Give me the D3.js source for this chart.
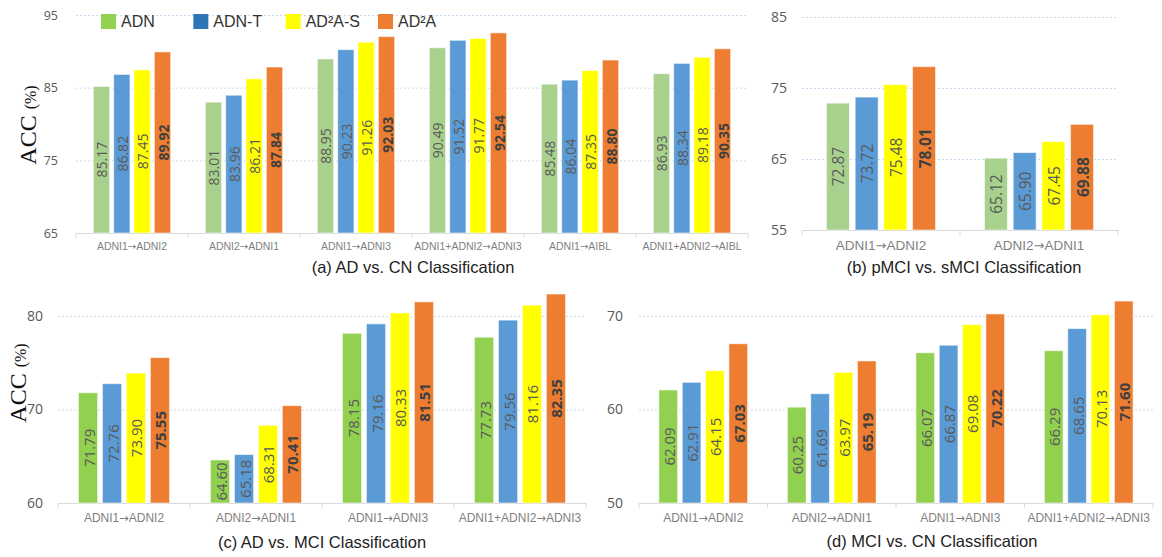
<!DOCTYPE html>
<html>
<head>
<meta charset="utf-8">
<script src="https://cdn.jsdelivr.net/npm/d3@7"></script>
<style>
  body { margin: 0; background: #fff; }
  svg { display: block; }
</style>
</head>
<body>
<svg id="chart" width="1162" height="557"></svg>
<script>

// === DATA ===
const seriesNames = ["ADN", "ADN-T", "AD²A-S", "AD²A"];

// (a) AD vs. CN
const catsA = ["ADNI1→ADNI2", "ADNI2→ADNI1", "ADNI1→ADNI3", "ADNI1+ADNI2→ADNI3", "ADNI1→AIBL", "ADNI1+ADNI2→AIBL"];
const adnA   = [85.17, 83.01, 88.95, 90.49, 85.48, 86.93];
const adntA  = [86.82, 83.96, 90.23, 91.52, 86.04, 88.34];
const ad2asA = [87.45, 86.21, 91.26, 91.77, 87.35, 89.18];
const ad2aA  = [89.92, 87.84, 92.03, 92.54, 88.80, 90.35];
const ticksA = [65, 75, 85, 95];

// (b) pMCI vs. sMCI
const catsB = ["ADNI1→ADNI2", "ADNI2→ADNI1"];
const adnB   = [72.87, 65.12];
const adntB  = [73.72, 65.90];
const ad2asB = [75.48, 67.45];
const ad2aB  = [78.01, 69.88];
const ticksB = [55, 65, 75, 85];

// (c) AD vs. MCI
const catsC = ["ADNI1→ADNI2", "ADNI2→ADNI1", "ADNI1→ADNI3", "ADNI1+ADNI2→ADNI3"];
const adnC   = [71.79, 64.60, 78.15, 77.73];
const adntC  = [72.76, 65.18, 79.16, 79.56];
const ad2asC = [73.90, 68.31, 80.33, 81.16];
const ad2aC  = [75.55, 70.41, 81.51, 82.35];
const ticksC = [60, 70, 80];

// (d) MCI vs. CN
const catsD = ["ADNI1→ADNI2", "ADNI2→ADNI1", "ADNI1→ADNI3", "ADNI1+ADNI2→ADNI3"];
const adnD   = [62.09, 60.25, 66.07, 66.29];
const adntD  = [62.91, 61.69, 66.87, 68.65];
const ad2asD = [64.15, 63.97, 69.08, 70.13];
const ad2aD  = [67.03, 65.19, 70.22, 71.60];
const ticksD = [50, 60, 70];


const svg = d3.select("#chart");

const paleColors   = ["#A9D18E", "#5B9BD5", "#FFFF00", "#ED7D31"];
const brightColors = ["#92D050", "#5B9BD5", "#FFFF00", "#ED7D31"];

// === Rita en panel ===
function renderPanel(opt) {
  const g = svg.append("g");
  const rows = opt.cats.map((c, i) => ({ cat: c, values: opt.series.map(s => s[i]) }));

  const x0 = d3.scaleBand()
    .domain(opt.cats)
    .range([opt.left, opt.right]);

  const x1 = d3.scaleBand()
    .domain(d3.range(seriesNames.length))
    .range([x0.bandwidth() * 0.155, x0.bandwidth() * 0.845])
    .paddingInner(0.2);

  const y = d3.scaleLinear()
    .domain([opt.ticks[0], opt.ticks[opt.ticks.length - 1]])
    .range([opt.bottom, opt.top]);

  const color = d3.scaleOrdinal().domain(d3.range(4)).range(opt.colors);

  // gridlines (streckade)
  const grid = g.append("g")
    .attr("transform", `translate(${opt.left},0)`)
    .call(d3.axisLeft(y).tickValues(opt.ticks.slice(1)).tickSize(-(opt.right - opt.left)).tickFormat(""));
  grid.select(".domain").remove();
  grid.selectAll("line")
    .attr("stroke", "#c9ddf0")
    .attr("stroke-dasharray", "2,2");

  // y tick labels
  const yAxis = g.append("g")
    .attr("transform", `translate(${opt.left},0)`)
    .call(d3.axisLeft(y).tickValues(opt.ticks).tickSize(0).tickPadding(opt.tickPad));
  yAxis.select(".domain").remove();
  yAxis.selectAll("text")
    .attr("fill", "#595959")
    .style("font-family", "'Open Sans', sans-serif")
    .style("font-size", opt.tickFont + "px");

  // x axel
  const xAxis = g.append("g")
    .attr("transform", `translate(0,${opt.bottom})`)
    .call(d3.axisBottom(x0).tickSize(0).tickPadding(opt.catPad));
  xAxis.select(".domain").attr("stroke", "#d9d9d9");
  xAxis.selectAll("text")
    .attr("fill", "#7f7f7f")
    .style("font-family", "'Liberation Sans', Arial, sans-serif")
    .style("font-size", opt.catFont + "px");

  // pilen i en bredare font (Liberation har en liten pil)
  xAxis.selectAll("text").each(function (d) {
    const t = d3.select(this);
    const parts = d.split("→");
    t.text(null);
    t.append("tspan").text(parts[0]);
    t.append("tspan").style("font-family", "'DejaVu Sans', sans-serif").style("font-size", (opt.catFont * 0.95) + "px").text("→");
    t.append("tspan").text(parts[1]);
  });

  const edges = opt.cats.map(c => x0(c)).concat([opt.right]);
  g.selectAll(".sep")
    .data(edges)
    .enter()
    .append("line")
    .attr("x1", d => d).attr("x2", d => d)
    .attr("y1", opt.bottom).attr("y2", opt.bottom + 5)
    .attr("stroke", "#d9d9d9");

  // Staplar
  const groups = g.selectAll(".grp")
    .data(rows)
    .enter()
    .append("g")
    .attr("transform", d => `translate(${x0(d.cat)},0)`);

  const items = groups.selectAll(".bar")
    .data(d => d.values.map((v, i) => ({ i, v })))
    .enter();

  items.append("rect")
    .attr("x", d => x1(d.i))
    .attr("y", d => y(d.v))
    .attr("width", x1.bandwidth())
    .attr("height", d => opt.bottom - y(d.v))
    .attr("fill", d => color(d.i))
    .attr("stroke", "#ffffff")
    .attr("stroke-opacity", 0.55)
    .attr("stroke-width", 1);

  items.append("text")
    .attr("transform", d => `translate(${x1(d.i) + x1.bandwidth() / 2 + 0.5},${(y(d.v) + opt.bottom) / 2}) rotate(-90)`)
    .attr("text-anchor", "middle")
    .attr("dominant-baseline", "central")
    .attr("fill", d => d.i === 3 ? "#404040" : "#595959")
    .style("font-family", "'Open Sans', sans-serif")
    .style("font-weight", d => d.i === 3 ? "bold" : "normal")
    .style("font-size", opt.valFont + "px")
    .text(d => d.v.toFixed(2));

  // Titel
  g.append("text")
    .attr("x", opt.titleX)
    .attr("y", opt.titleY)
    .attr("text-anchor", "middle")
    .attr("fill", "#222")
    .style("font-family", "'Liberation Sans', Arial, sans-serif")
    .style("font-size", "16.5px")
    .text(opt.title);

  // ACC (%) etikett
  if (opt.accY) {
    const lab = g.append("text")
      .attr("transform", `translate(${opt.accX},${opt.accY}) rotate(-90)`)
      .attr("text-anchor", "middle")
      .attr("fill", "#111")
      .style("font-family", "'Liberation Serif', 'Times New Roman', serif");
    lab.append("tspan").style("font-size", "24px").text("ACC ");
    lab.append("tspan").style("font-size", "16px").text("(%)");
  }
}

renderPanel({
  cats: catsA, series: [adnA, adntA, ad2asA, ad2aA], ticks: ticksA, colors: paleColors,
  left: 76, right: 748, top: 15, bottom: 233,
  tickFont: 12.5, tickPad: 18, catFont: 10.5, catPad: 10, valFont: 14,
  title: "(a) AD vs. CN Classification", titleX: 413, titleY: 273,
  accX: 36, accY: 125
});

renderPanel({
  cats: catsB, series: [adnB, adntB, ad2asB, ad2aB], ticks: ticksB, colors: paleColors,
  left: 802, right: 1118, top: 17, bottom: 230,
  tickFont: 14, tickPad: 15, catFont: 13.5, catPad: 10, valFont: 15.5,
  title: "(b) pMCI vs. sMCI Classification", titleX: 964, titleY: 273
});

renderPanel({
  cats: catsC, series: [adnC, adntC, ad2asC, ad2aC], ticks: ticksC, colors: brightColors,
  left: 58, right: 586, top: 316, bottom: 503,
  tickFont: 14, tickPad: 15, catFont: 12, catPad: 10, valFont: 15,
  title: "(c) AD vs. MCI Classification", titleX: 322, titleY: 548,
  accX: 26, accY: 383
});

renderPanel({
  cats: catsD, series: [adnD, adntD, ad2asD, ad2aD], ticks: ticksD, colors: brightColors,
  left: 639, right: 1153, top: 316, bottom: 503,
  tickFont: 14, tickPad: 16, catFont: 12, catPad: 10, valFont: 15,
  title: "(d) MCI vs. CN Classification", titleX: 932, titleY: 547
});

// === Legend ===
const legendColors = ["#92D050", "#2E75B6", "#FFFF00", "#ED7D31"];
const legendX = d3.scalePoint()
  .domain(seriesNames)
  .range([101, 378]);

const legend = svg.selectAll(".legend")
  .data(seriesNames)
  .enter()
  .append("g")
  .attr("transform", d => `translate(${legendX(d)},14)`);

legend.append("rect")
  .attr("width", 15)
  .attr("height", 15)
  .attr("fill", (d, i) => legendColors[i]);

legend.append("text")
  .attr("x", 20)
  .attr("y", 13)
  .attr("fill", "#333")
  .style("font-family", "'Liberation Sans', Arial, sans-serif")
  .style("font-size", "16px")
  .text(d => d);

</script>
</body>
</html>
